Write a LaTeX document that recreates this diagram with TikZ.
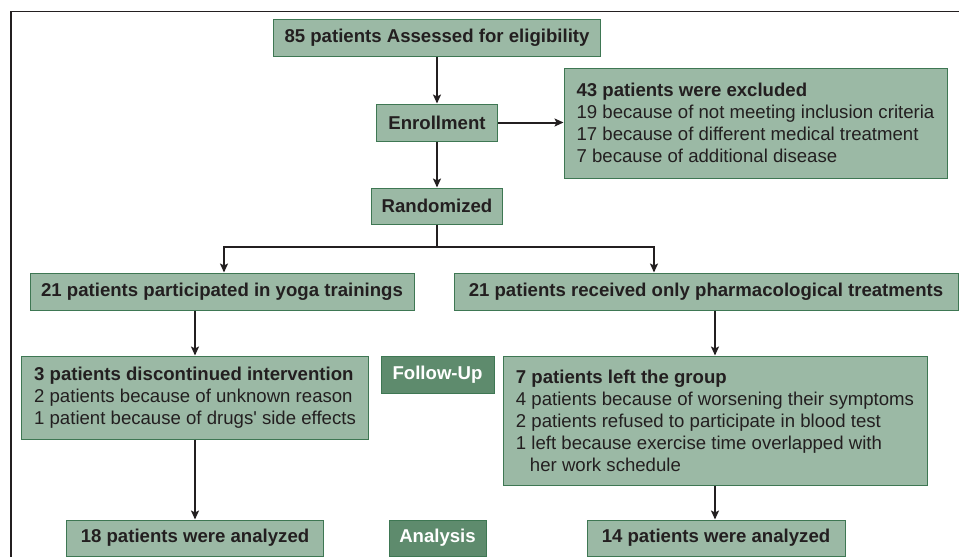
\documentclass[tikz,border=0pt]{standalone}
\usepackage{fontspec}
\setmainfont{Liberation Sans}[Ligatures=TeXOff]
\usetikzlibrary{arrows.meta}
\definecolor{boxfill}{HTML}{9BB9A5}
\definecolor{boxdraw}{HTML}{3E7753}
\definecolor{tagfill}{HTML}{5E8B6D}
\definecolor{inkc}{HTML}{231F20}
\tikzset{
  box/.style={draw=boxdraw, fill=boxfill, line width=1pt, inner sep=0pt,
    text=inkc, font=\fontsize{18.6}{22}\selectfont, align=left},
  tag/.style={draw=boxdraw, fill=tagfill, line width=1pt, inner sep=0pt,
    text=white, font=\fontsize{18.6}{22}\selectfont\bfseries},
  conn/.style={draw=inkc, line width=2pt, -{Stealth[length=9pt,width=8pt,inset=2pt]}},
  line/.style={draw=inkc, line width=2pt}
}
\begin{document}
\begin{tikzpicture}[x=1pt,y=-1pt]
\useasboundingbox (0,0) rectangle (959,557);
\draw[line width=1.3pt, draw=inkc] (11,600) -- (11,11.7) -- (1000,11.7);

\node[box, minimum width=327pt, minimum height=37pt] (elig) at (437,37.5) {\bfseries 85 patients Assessed for eligibility};
\node[box, minimum width=121pt, minimum height=37pt] (enroll) at (437,122.5) {\bfseries Enrollment};
\node[box, minimum width=383pt, minimum height=110pt] (excl) at (755.5,123) {\textbf{43 patients were excluded}\\19 because of not meeting inclusion criteria\\17 because of different medical treatment\\7 because of additional disease};
\node[box, minimum width=131pt, minimum height=36pt] (rand) at (437,206) {\bfseries Randomized};
\node[box, minimum width=384pt, minimum height=37pt] (yoga) at (222,291.5) {\bfseries 21 patients participated in yoga trainings};
\node[box, minimum width=504pt, minimum height=37pt] (pharm) at (706,291.5) {\bfseries 21 patients received only pharmacological treatments};
\node[box, minimum width=347pt, minimum height=83pt] (disc) at (195,397.5) {\textbf{3 patients discontinued intervention}\\2 patients because of unknown reason\\1 patient because of drugs' side effects};
\node[tag, minimum width=113pt, minimum height=37pt] (follow) at (437.5,374.5) {Follow-Up};
\node[box, minimum width=424pt, minimum height=129pt] (leftg) at (715,420.5) {\textbf{7 patients left the group}\\4 patients because of worsening their symptoms\\2 patients refused to participate in blood test\\1 left because exercise time overlapped with\\\hspace*{14pt}her work schedule};
\node[box, minimum width=257pt, minimum height=36pt] (an1) at (195,538) {\bfseries 18 patients were analyzed};
\node[tag, minimum width=97pt, minimum height=36pt] (analysis) at (437.5,538) {Analysis};
\node[box, minimum width=258pt, minimum height=36pt] (an2) at (716,538) {\bfseries 14 patients were analyzed};

\coordinate (split) at (437,247);
\coordinate (sl) at (224,247);
\coordinate (sr) at (654,247);

\draw[conn] (elig) -- (enroll);
\draw[conn] (enroll) -- (excl.west |- enroll.east);
\draw[conn] (enroll) -- (rand);
\draw[line] (rand.south) -- (split);
\draw[line, line cap=rect] (sl) -- (sr);
\draw[conn] (sl) -- (sl |- yoga.north);
\draw[conn] (sr) -- (sr |- pharm.north);
\draw[conn] (yoga.south -| disc.north) -- (disc.north);
\draw[conn] (pharm.south -| leftg.north) -- (leftg.north);
\draw[conn] (disc) -- (an1);
\draw[conn] (leftg.south -| leftg.north) -- (leftg.south |- an2.north);
\end{tikzpicture}
\end{document}
